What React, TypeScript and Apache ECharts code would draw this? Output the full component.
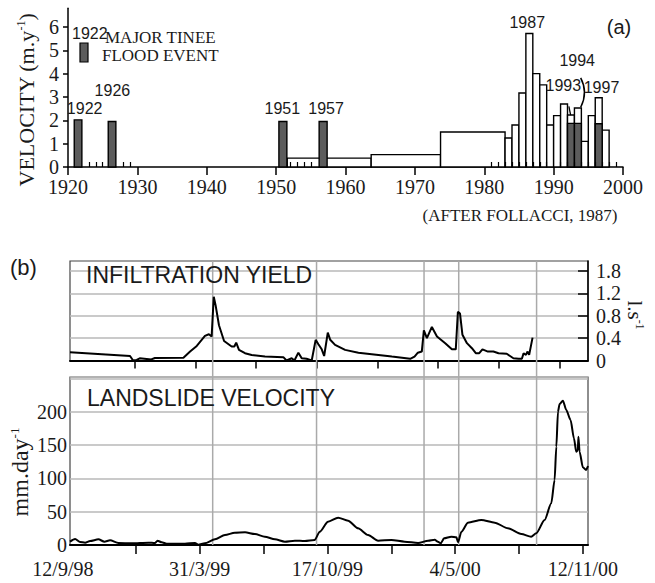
import React, { useEffect, useRef } from "react";
import * as echarts from "echarts";

// ---------- Panel (a): velocity history ----------
const DECADE_TICKS = [1920, 1930, 1940, 1950, 1960, 1970, 1980, 1990, 2000];
const MINOR_TICK_YEARS = [1923, 1924, 1925, 1928, 1929, 1952, 1953, 1954, 1955, 1981, 1982, 1983, 1984, 1985, 1986, 1987, 1988, 1989, 1991, 1992, 1993, 1994, 1995, 1996, 1997, 1998, 1999];
const VELOCITY_TICKS = [0, 1, 2, 3, 4, 5, 6];

const OPEN_START = [1951.6, 1963.7, 1973.7, 1983, 1984, 1985, 1986, 1987, 1988, 1989, 1990, 1991, 1992, 1993, 1994, 1995, 1996, 1997];
const OPEN_END = [1963.7, 1973.7, 1983.0, 1984, 1985, 1986, 1987, 1988, 1989, 1990, 1991, 1992, 1993, 1994, 1995, 1996, 1997, 1998];
const OPEN_VALUE = [0.38, 0.53, 1.5, 1.24, 1.8, 3.17, 5.72, 4.0, 3.52, 1.8, 2.2, 2.7, 2.23, 2.53, 1.1, 2.2, 2.97, 1.58];

const FLOOD_START = [1920.9, 1925.8, 1950.4, 1956.2, 1992, 1993, 1996];
const FLOOD_END = [1922.0, 1926.9, 1951.55, 1957.35, 1993, 1994, 1997];
const FLOOD_VALUE = [2.02, 1.95, 1.95, 1.95, 1.87, 1.87, 1.85];

const YEAR_LABEL_TEXT = ["1922", "1926", "1951", "1957", "1987", "1993", "1994", "1997"];
const YEAR_LABEL_X = [1922.4, 1926.4, 1950.9, 1957.2, 1986.2, 1991.4, 1993.4, 1996.9];
const YEAR_LABEL_Y = [2.15, 2.95, 2.15, 2.15, 5.87, 3.13, 4.2, 3.06];

// ---------- Panel (b): infiltration yield & landslide velocity ----------
const DATE_LABELS = ["12/9/98", "31/3/99", "17/10/99", "4/5/00", "12/11/00"];
const DATE_LABEL_DAYS = [0, 200, 400, 600, 800];
const DATE_TICK_DAYS = [100, 200, 300, 400, 500, 600, 700, 800];

const YIELD_TICKS = [0, 0.4, 0.8, 1.2, 1.6];
const YIELD_TICK_LABELS = ["0", "0.4", "0.8", "1.2", "1.8"];
const SPEED_TICKS = [0, 50, 100, 150, 200];

const INF_DAYS = [-7, 39, 92, 97, 103, 108, 127, 133, 180, 191, 202, 215.5, 222, 226.5, 230, 233, 238.6, 247, 259.5, 264, 267, 271.6, 281.5, 292.5, 314.5, 344.7, 350, 358.5, 363, 369.5, 375, 383, 391.5, 398, 402.5, 408, 412, 418, 422, 430, 446.5, 468.5, 501.5, 523.6, 553.8, 561, 566.5, 573, 576.4, 581.4, 589.6, 598, 611.6, 622.6, 629, 632.5, 636, 640, 647.4, 655.6, 662, 667.7, 673, 682, 691, 699.5, 713, 724, 732.5, 738, 740.8, 744.7, 747.4, 750, 755.6];
const INF_VALUES = [0.146, 0.116, 0.08, 0.0, 0.01, 0.04, 0.02, 0.045, 0.05, 0.16, 0.26, 0.44, 0.47, 0.43, 1.14, 0.99, 0.63, 0.35, 0.25, 0.25, 0.32, 0.19, 0.13, 0.1, 0.07, 0.06, 0.0, 0.04, 0.0, 0.14, 0.04, 0.03, 0.0, 0.37, 0.29, 0.2, 0.08, 0.5, 0.37, 0.28, 0.19, 0.14, 0.1, 0.07, 0.03, 0.07, 0.14, 0.16, 0.54, 0.4, 0.6, 0.43, 0.31, 0.2, 0.2, 0.87, 0.84, 0.46, 0.31, 0.22, 0.13, 0.13, 0.2, 0.16, 0.16, 0.13, 0.12, 0.04, 0.03, 0.03, 0.13, 0.1, 0.16, 0.1, 0.41];

const LS_DAYS = [-3, 5, 12.8, 20.6, 28.5, 41.5, 50.8, 59.7, 72.8, 93.6, 119.7, 130, 134, 140.6, 148.4, 177, 192.7, 197.8, 208, 224, 239.6, 255, 271, 286.5, 302, 317.8, 333.4, 349, 364.7, 380, 388, 401, 416.8, 432.4, 448, 463.7, 479.4, 500.3, 521, 542, 557.6, 568, 573, 577.4, 582.6, 594, 602, 604.5, 609.8, 620, 641, 662, 682.7, 703.6, 719, 727, 740, 750.5, 755.7, 758.4, 761, 763.5, 768.7, 774, 780.7, 786, 789.6, 792, 793, 794.8, 800, 805, 808];
const LS_VALUES = [5, 9, 4.5, 3.5, 6, 8.5, 5, 7, 3, 2.5, 3.5, 3, 6.5, 4, 2, 2, 3, 0.5, 2.5, 8.5, 15, 18.5, 19, 16.5, 12.5, 8.5, 5, 6.5, 6, 7.5, 20, 35, 41, 36.5, 25, 15, 6.5, 7.5, 5, 3, 6.5, 8, 5, 2.5, 10, 12.5, 11.5, 4, 20, 33.5, 37.5, 33.5, 25, 16.5, 12.5, 17.5, 37.5, 62.5, 97.5, 147.5, 200, 211.5, 216.5, 202.5, 187.5, 160, 140, 142, 162.5, 140, 116.5, 112.5, 118.5];

const EVENT_DAYS = [220.4, 383, 551.3, 605.6, 727.5];

const SERIF = "'Liberation Serif', 'Times New Roman', serif";
const SANS = "'Liberation Sans', Arial, sans-serif";
const NARROW = "'Liberation Sans Narrow', 'Arial Narrow', 'Liberation Sans', sans-serif";
const INK = "#1a1a1a";
const GRID_GRAY = "#b8b8b8";
const UPPER_PANEL_TOP = 261;
const UPPER_X_MAX = 847;

export default function App() {
  const ref = useRef<HTMLDivElement>(null);

  useEffect(() => {
    if (!ref.current) return;
    const chart = echarts.init(ref.current, null, { renderer: "svg" });

    const openData = OPEN_START.map((s, i) => [s, OPEN_END[i], OPEN_VALUE[i]]);
    const floodData = FLOOD_START.map((s, i) => [s, FLOOD_END[i], FLOOD_VALUE[i]]);
    const labelData = YEAR_LABEL_X.map((x, i) => [x, YEAR_LABEL_Y[i]]);

    const barRender = (fill: string) => (params: any, api: any) => {
      const s = api.value(0), e = api.value(1), v = api.value(2);
      const p0 = api.coord([s, v]);
      const p1 = api.coord([e, 0]);
      return {
        type: "rect",
        shape: { x: p0[0], y: p0[1], width: p1[0] - p0[0], height: p1[1] - p0[1] },
        style: { fill, stroke: "#000", lineWidth: 1.4 },
      };
    };

    const option: any = {
      animation: false,
      backgroundColor: "#fff",
      grid: [
        { left: 68, top: 8.3, width: 555, height: 158.7 },
        { left: 70, top: UPPER_PANEL_TOP, width: 518, height: 99.5, show: true, borderColor: "#444", borderWidth: 1.2, backgroundColor: "transparent" },
        { left: 70, top: 377, width: 518, height: 168, show: true, borderColor: "#444", borderWidth: 1.2, backgroundColor: "transparent" },
      ],
      xAxis: [
        {
          gridIndex: 0, type: "value", min: 1920, max: 2000, interval: 10,
          axisLine: { onZero: false, lineStyle: { color: "#000", width: 1.5 } },
          axisTick: { length: 8, lineStyle: { color: "#000", width: 1.5 }, customValues: DECADE_TICKS },
          axisLabel: { fontFamily: SERIF, fontSize: 20, color: INK, margin: 10, customValues: DECADE_TICKS, formatter: (v: number) => String(Math.round(v)) },
          splitLine: { show: false },
        },
        {
          gridIndex: 0, type: "value", min: 1920, max: 2000, position: "bottom", z: 10,
          axisLine: { show: false, onZero: false },
          axisTick: { inside: true, length: 5, lineStyle: { color: "#000", width: 1.2 }, customValues: MINOR_TICK_YEARS },
          axisLabel: { show: false },
          splitLine: { show: false },
        },
        {
          gridIndex: 1, type: "value", min: -7, max: UPPER_X_MAX,
          axisLine: { onZero: false, lineStyle: { color: "#000", width: 2 } },
          axisTick: { length: 8, lineStyle: { color: "#000", width: 1.5 }, customValues: DATE_TICK_DAYS },
          axisLabel: { show: false },
          splitLine: { show: false },
        },
        {
          gridIndex: 2, type: "value", min: -3, max: 808,
          axisLine: { onZero: false, lineStyle: { color: "#000", width: 2 } },
          axisTick: { length: 9, lineStyle: { color: "#000", width: 1.5 }, customValues: DATE_TICK_DAYS },
          axisLabel: {
            customValues: DATE_LABEL_DAYS,
            margin: 14,
            formatter: (v: number) => {
              const i = DATE_LABEL_DAYS.indexOf(Math.round(v));
              const t = i >= 0 ? DATE_LABELS[i] : "";
              return i === 0 ? "{f|" + t + "}" : "{n|" + t + "}";
            },
            rich: {
              f: { fontFamily: SERIF, fontSize: 20, color: INK, padding: [0, 18, 0, 0] },
              n: { fontFamily: SERIF, fontSize: 20, color: INK },
            },
          },
          splitLine: { show: false },
        },
      ],
      yAxis: [
        {
          gridIndex: 0, type: "value", min: 0, max: 6.8, interval: 1,
          axisLine: { show: true, onZero: false, lineStyle: { color: "#000", width: 1.5 } },
          axisTick: { show: true, length: 5, lineStyle: { color: "#000", width: 1.5 }, customValues: VELOCITY_TICKS },
          axisLabel: { fontFamily: SERIF, fontSize: 20, color: INK, margin: 9, customValues: VELOCITY_TICKS },
          splitLine: { show: false },
        },
        {
          gridIndex: 1, type: "value", position: "right", min: 0, max: 1.78, interval: 0.4,
          axisLine: { show: true, onZero: false, lineStyle: { color: "#000", width: 1.5 } },
          axisTick: { show: true, inside: true, length: 10, lineStyle: { color: "#000", width: 1.5 }, customValues: YIELD_TICKS.slice(1) },
          axisLabel: {
            fontFamily: SERIF, fontSize: 20, color: INK, margin: 8, customValues: YIELD_TICKS,
            formatter: (v: number) => {
              const i = Math.round(v / 0.4);
              return YIELD_TICK_LABELS[i] ?? "";
            },
          },
          splitLine: { show: true, lineStyle: { color: GRID_GRAY, width: 1.5 } },
        },
        {
          gridIndex: 2, type: "value", min: 0, max: 252, interval: 50,
          axisLine: { show: false, onZero: false },
          axisTick: { show: false },
          axisLabel: { fontFamily: SERIF, fontSize: 20, color: INK, margin: 3, customValues: SPEED_TICKS },
          splitLine: { show: true, lineStyle: { color: GRID_GRAY, width: 1.5 } },
        },
      ],
      series: [
        {
          type: "custom", xAxisIndex: 0, yAxisIndex: 0, z: 2,
          data: openData, encode: { x: [0, 1], y: 2 },
          renderItem: barRender("#fff"),
        },
        {
          type: "custom", xAxisIndex: 0, yAxisIndex: 0, z: 3,
          data: floodData, encode: { x: [0, 1], y: 2 },
          renderItem: barRender("#5c5c5c"),
        },
        {
          type: "custom", xAxisIndex: 0, yAxisIndex: 0, z: 4,
          data: labelData, encode: { x: 0, y: 1 },
          renderItem: (params: any, api: any) => {
            const p = api.coord([api.value(0), api.value(1)]);
            return {
              type: "text", x: p[0], y: p[1],
              style: { text: YEAR_LABEL_TEXT[params.dataIndex], fontFamily: NARROW, fontSize: 16, fill: INK, align: "center", verticalAlign: "bottom" },
            };
          },
        },
        {
          type: "custom", xAxisIndex: 0, yAxisIndex: 0, z: 4,
          data: [[1993, 3]], encode: { x: 0, y: 1 },
          renderItem: (params: any, api: any) => {
            const a1 = api.coord([1992.2, 2.6]);
            const a2 = api.coord([1992.45, 2.22]);
            const b1 = api.coord([1993.9, 3.82]);
            const bc = api.coord([1995.0, 3.2]);
            const b2 = api.coord([1993.9, 2.56]);
            return {
              type: "group",
              children: [
                { type: "line", shape: { x1: a1[0], y1: a1[1], x2: a2[0], y2: a2[1] }, style: { stroke: "#000", lineWidth: 1.3 } },
                { type: "bezierCurve", shape: { x1: b1[0], y1: b1[1], x2: b2[0], y2: b2[1], cpx1: bc[0], cpy1: bc[1] }, style: { stroke: "#000", lineWidth: 1.5, fill: null } },
              ],
            };
          },
        },
        {
          type: "custom", xAxisIndex: 3, yAxisIndex: 2, z: 1,
          data: EVENT_DAYS.map((d) => [d, 0]), encode: { x: 0, y: 1 },
          renderItem: (params: any, api: any) => {
            const p = api.coord([api.value(0), 0]);
            return {
              type: "line",
              shape: { x1: p[0], y1: p[1], x2: p[0], y2: UPPER_PANEL_TOP },
              style: { stroke: "#aaa", lineWidth: 1.5 },
            };
          },
        },
        {
          type: "line", xAxisIndex: 2, yAxisIndex: 1, z: 5,
          data: INF_DAYS.map((d, i) => [d, INF_VALUES[i]]),
          showSymbol: false, symbol: "none",
          lineStyle: { color: "#000", width: 2 },
        },
        {
          type: "line", xAxisIndex: 3, yAxisIndex: 2, z: 5,
          data: LS_DAYS.map((d, i) => [d, LS_VALUES[i]]),
          showSymbol: false, symbol: "none", smooth: 0.25, smoothMonotone: "x",
          lineStyle: { color: "#000", width: 2 },
        },
      ],
      graphic: [
        { type: "text", x: 26, y: 100, rotation: Math.PI / 2, style: { text: "{a|VELOCITY (m.y}{s|-1}{a|)}", rich: { a: { fontFamily: SERIF, fontSize: 22, fill: INK }, s: { fontFamily: SERIF, fontSize: 12, fill: INK, verticalAlign: "top", padding: [0, 0, 10, 0] } }, align: "center", verticalAlign: "middle" } },
        { type: "text", x: 72, y: 33, style: { text: "1922", fontFamily: NARROW, fontSize: 16, fill: INK, align: "left", verticalAlign: "middle" } },
        { type: "rect", shape: { x: 80, y: 43, width: 8, height: 19 }, style: { fill: "#5c5c5c", stroke: "#000", lineWidth: 1.2 } },
        { type: "text", x: 105, y: 37, style: { text: "MAJOR TINEE", fontFamily: SERIF, fontSize: 17, fill: INK, align: "left", verticalAlign: "middle" } },
        { type: "text", x: 102, y: 55, style: { text: "FLOOD EVENT", fontFamily: SERIF, fontSize: 17, fill: INK, align: "left", verticalAlign: "middle" } },
        { type: "text", x: 619, y: 27, style: { text: "(a)", fontFamily: SANS, fontSize: 20, fill: INK, align: "center", verticalAlign: "middle" } },
        { type: "text", x: 520, y: 215, style: { text: "(AFTER FOLLACCI, 1987)", fontFamily: SERIF, fontSize: 17, fill: INK, align: "center", verticalAlign: "middle" } },
        { type: "text", x: 10, y: 267, style: { text: "(b)", fontFamily: SANS, fontSize: 22, fill: INK, align: "left", verticalAlign: "middle" } },
        { type: "text", x: 86, y: 275, z: 10, style: { text: "INFILTRATION YIELD", fontFamily: SANS, fontSize: 23, fill: INK, align: "left", verticalAlign: "middle" } },
        { type: "text", x: 87, y: 398, z: 10, style: { text: "LANDSLIDE VELOCITY", fontFamily: SANS, fontSize: 23, fill: INK, align: "left", verticalAlign: "middle" } },
        { type: "text", x: 635, y: 315, rotation: -Math.PI / 2, style: { text: "{a|l.s}{s|-1}", rich: { a: { fontFamily: SERIF, fontSize: 21, fill: INK }, s: { fontFamily: SERIF, fontSize: 12, fill: INK, verticalAlign: "top", padding: [0, 0, 10, 0] } }, align: "center", verticalAlign: "middle" } },
        { type: "text", x: 20, y: 472, rotation: Math.PI / 2, style: { text: "{a|mm.day}{s|-1}", rich: { a: { fontFamily: SERIF, fontSize: 24, fill: INK }, s: { fontFamily: SERIF, fontSize: 13, fill: INK, verticalAlign: "top", padding: [0, 0, 12, 0] } }, align: "center", verticalAlign: "middle" } },
      ],
    };

    chart.setOption(option);
    return () => chart.dispose();
  }, []);

  return <div ref={ref} style={{ position: "fixed", left: 0, top: 0, width: 655, height: 583 }} />;
}
